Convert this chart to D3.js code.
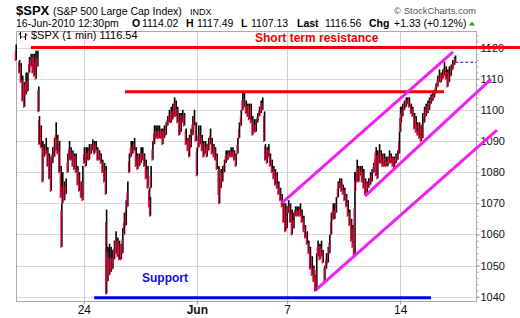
<html>
<head>
<script src="https://d3js.org/d3.v7.min.js"></script>
<style>
body { margin: 0; background: #fff; }
text { font-family: "Liberation Sans", Arial, sans-serif; }
</style>
</head>
<body>
<script>
var dayIdx = [0.00,0.15,0.22,0.29,0.37,0.44,0.52,0.59,0.66,0.74,0.81,0.88,0.96,1.00,1.03,1.11,1.18,1.25,1.33,1.40,1.47,1.55,1.62,1.70,1.77,1.84,1.92,1.99,2.02,2.06,2.14,2.21,2.29,2.36,2.43,2.51,2.58,2.65,2.73,2.80,2.88,2.95,3.02,3.10,3.17,3.24,3.32,3.39,3.47,3.54,3.61,3.69,3.76,3.83,3.91,3.98,4.00,4.06,4.13,4.20,4.28,4.35,4.42,4.50,4.57,4.65,4.72,4.79,4.87,4.94,5.01,5.09,5.16,5.24,
  5.31,5.38,5.46,5.53,5.60,5.68,5.75,5.83,5.90,5.94,5.97,6.05,6.12,6.19,6.27,6.34,6.42,6.49,6.56,6.64,6.71,6.78,6.86,6.93,7.01,7.08,7.15,7.23,7.30,7.37,7.45,7.52,7.60,7.67,7.74,7.82,7.89,7.96,8.01,8.08,8.16,8.23,8.30,8.38,8.45,8.52,8.60,8.67,8.75,8.82,8.89,8.97,9.00,9.07,9.14,9.22,9.29,9.37,9.44,9.51,9.59,9.66,9.73,9.81,9.88,9.96,10.03,10.10,10.18,10.25,10.32,10.40,10.47,10.55,
  10.62,10.69,10.77,10.84,10.91,10.99,11.03,11.11,11.18,11.25,11.33,11.40,11.47,11.55,11.62,11.70,11.77,11.84,11.92,11.99,12.06,12.14,12.21,12.29,12.36,12.43,12.51,12.58,12.65,12.73,12.80,12.88,12.95,13.02,13.10,13.17,13.24,13.30,13.36,13.44,13.51,13.58,13.66,13.73,13.81,13.88,13.95,14.03,14.10,14.17,14.25,14.32,14.40,14.47,14.54,14.62,14.69,14.76,14.84,14.90,14.96,14.99,15.01,15.09,15.16,15.24,15.31,15.38,15.46,15.53,15.60,15.68,15.75,15.83,15.90,
  15.93,16.00,16.08,16.15,16.22,16.30,16.37,16.45,16.52,16.59,16.67,16.74,16.81,16.89,16.96,17.01,17.04,17.11,17.18,17.26,17.33,17.40,17.48,17.55,17.63,17.70,17.77,17.85,17.92,17.99,18.07,18.14,18.22,18.29,18.36,18.44,18.51,18.58,18.66,18.73,18.81,18.88,18.95,19.03,19.10,19.17,19.25,19.32,19.40,19.44];

var hiVals = [1121,1116,1115,1111,1109,1112,1112,1117,1118,1118,1118,1119,1119,1107.5,1098,1095,1090,1089,1091,1088,1086,1085,1088,1091,1096,1092,1090,1082,1070,1080,1077,1078,1086,1090,1088,1087,1086,1086,1082,1080,1077,1082,1088,1088,1088,1089,1089,1090.5,1090,1090,1088,1087,1086,1084,1083,1082,1068,1056,1057,1056,1055,1058,1061,1059,1058,1057,1062,1067,1071,1077,1086,1090,1090,1091,
  1088,1086,1086,1088,1088,1086,1084,1082,1075,1072,1082,1090,1095,1095,1095,1095,1094,1094,1095,1096,1098,1100,1101,1102,1104,1103,1101,1099,1099,1100,1099,1094,1091,1092,1094,1098,1100,1096,1088,1095,1095,1092,1090,1090,1089,1091,1094,1091,1089,1088,1086,1082,1078,1081,1082,1084,1087,1087,1087,1088,1088,1087,1086,1091,1096,1100,1105.5,1105.5,1103,1102,1102,1102,1098,1097,
  1097,1099,1101,1103,1104,1099.5,1089,1088,1089,1086,1084,1082,1081,1080,1077,1075,1073,1071,1070,1069,1071,1070,1068,1067,1069,1069,1069,1070,1068,1066,1063,1061,1058,1056,1053,1050,1047,1054,1058,1057,1058,1055,1050,1054,1056,1060,1067,1070,1070,1072,1077,1078,1078,1076,1075,1073,1071,1068,1065,1063,1058,1080,1080,1084,1082,1082,1082,1081,1078,1077,1078,1080,1081,1083,1086,
  1088,1087,1089,1087,1086,1086,1085,1085,1087,1086,1085,1085,1086,1087,1093,1101,1101,1102,1103,1104,1104,1104,1102,1101,1099,1098,1096,1096,1095,1099,1101,1102,1103,1104,1105,1106,1106.5,1108.5,1111,1113,1112,1113,1115.5,1114,1113,1114,1114.5,1116,1117,1117.5];

var loVals = [1116,1112,1109,1103,1101,1105,1106,1112,1114,1112,1111,1110,1114,1099.5,1089,1088,1077,1085,1086,1082,1078,1074,1083,1085,1087,1086,1080,1072,1056,1070,1071,1073,1080,1084,1084,1082,1081,1080,1076,1074,1072,1071,1083,1082,1084,1084,1086,1087,1086,1087,1084,1084,1083,1080,1077,1073,1041,1045,1047,1048,1049,1052,1054,1053,1052,1052,1054,1060,1063,1069,1080,1085,1086,1087,
  1082,1081,1082,1083,1084,1082,1078,1075,1069,1066,1075,1084,1089,1091,1091,1091,1091,1089,1091,1092,1095,1096,1096,1097,1098,1098,1096,1092,1093,1096,1095,1089,1087,1085,1088,1092,1095,1090,1079,1088,1089,1087,1085,1086,1085,1087,1089,1086,1085,1084,1081,1073,1070,1075,1077,1080,1083,1084,1085,1085,1085,1084,1082,1086,1091,1095,1100,1101,1099,1098,1097,1096,1092,1093,
  1093,1096,1098,1099,1100,1090,1084,1083,1085,1082,1080,1078,1076,1075,1073,1071,1069,1064,1061,1062,1067,1064,1060,1062,1066,1066,1066,1066,1064,1061,1059,1057,1054,1049,1047,1045,1042,1042,1053,1052,1053,1051,1045,1049,1051,1054,1060,1065,1065,1067,1072,1075,1074,1073,1071,1069,1066,1063,1058,1056,1053,1054,1074,1077,1077,1079,1077,1075,1073,1073,1075,1076,1077,1080,1082,
  1079,1078,1083,1083,1082,1082,1082,1082,1083,1083,1082,1081,1083,1084,1086,1093,1096,1098,1100,1101,1102,1101,1099,1098,1094,1093,1092,1091,1090,1091,1096,1098,1099,1100,1102,1103,1104,1105.5,1107.5,1109,1109,1110,1111,1110,1107.5,1109,1111,1113,1114.5,1115.6];

var yTicks = [1040,1050,1060,1070,1080,1090,1100,1110,1120];
var yMinorTicks = d3.range(1040, 1125, 2);
var xTickDays = [3, 8, 12, 17];
var xTickLabels = ["24", "Jun", "7", "14"];

// annotations, in [day, price] terms
var resistanceLines = [[0.66, 22.3, 1120], [4.82, 18.94, 1105.8]];
var supportLine = [3.46, 18.36, 1039.7];
var channelLines = [[11.77, 1070.1, 19.34, 1118.6], [15.44, 1072.3, 21.02, 1109.9], [13.32, 1042.5, 21.28, 1093.5]];
var lastMarker = [19.44, 20.354, 1115.3];

var quoteLabels = ["O", "H", "L", "Last", "Chg"];
var quoteValues = ["1114.02", "1117.49", "1107.13", "1116.56", "+1.33 (+0.12%)"];

var width = 520, height = 318;
var plot = {left: 16, right: 476, top: 31, bottom: 301};

var xScale = d3.scaleLinear()
    .domain([0, 20.354])
    .range([plot.left, plot.right]);
var yScale = d3.scaleLinear()
    .domain([1040, 1120])
    .range([296.7, 47.6]);

var svg = d3.select("body").append("svg")
    .attr("width", width)
    .attr("height", height);

// header
var head = svg.append("g");
head.append("text").attr("x", 16).attr("y", 15)
    .attr("font-size", 13).attr("font-weight", "bold").text("$SPX");
head.append("text").attr("x", 53).attr("y", 14.5)
    .attr("font-size", 10.5).text("(S&P 500 Large Cap Index)");
head.append("text").attr("x", 190).attr("y", 14.5)
    .attr("font-size", 9).text("INDX");
head.append("text").attr("x", 476).attr("y", 14)
    .attr("font-size", 9.5).attr("fill", "#555").attr("text-anchor", "end")
    .text("\u00a9 StockCharts.com");

var line2 = head.append("text").attr("y", 27).attr("font-size", 10.5);
line2.append("tspan").attr("x", 16).text("16-Jun-2010 12:30pm");
var labelX = [132, 186, 241, 297, 369];
var valueX = [142, 197, 251, 325, 394];
quoteLabels.forEach(function(l, i) {
    line2.append("tspan").attr("x", labelX[i]).attr("font-weight", "bold").text(l);
    line2.append("tspan").attr("x", valueX[i]).text(quoteValues[i]);
});
head.append("path").attr("d", "M469,25.5L475,25.5L472,21.5Z").attr("fill", "#2a9a2a");

// grid
var grid = svg.append("g");
grid.selectAll(".hg").data(yTicks).enter().append("line")
    .attr("x1", plot.left).attr("x2", plot.right)
    .attr("y1", function(d) { return Math.round(yScale(d)) + 0.5; })
    .attr("y2", function(d) { return Math.round(yScale(d)) + 0.5; })
    .attr("stroke", "#dadada");
grid.selectAll(".vg").data(xTickDays).enter().append("line")
    .attr("y1", plot.top).attr("y2", plot.bottom)
    .attr("x1", function(d) { return Math.round(xScale(d)) + 0.5; })
    .attr("x2", function(d) { return Math.round(xScale(d)) + 0.5; })
    .attr("stroke", "#d0d0d0");

svg.append("rect")
    .attr("x", plot.left + 0.5).attr("y", plot.top + 0.5)
    .attr("width", plot.right - plot.left).attr("height", plot.bottom - plot.top)
    .attr("fill", "none").attr("stroke", "#aaa");

// axes
var yAxis = d3.axisRight(yScale).tickValues(yTicks).tickSize(3).tickPadding(1)
    .tickFormat(d3.format("d"));
var ya = svg.append("g").attr("transform", "translate(" + (plot.right + 0.5) + ",0)").call(yAxis);
ya.select(".domain").remove();
ya.selectAll("text").attr("font-size", 11).attr("fill", "#111").attr("font-family", "Liberation Sans, Arial");
ya.selectAll("line").attr("stroke", "#999");

var yMinor = d3.axisRight(yScale).tickValues(yMinorTicks).tickSize(2).tickFormat("");
var ym = svg.append("g").attr("transform", "translate(" + (plot.right + 0.5) + ",0)").call(yMinor);
ym.select(".domain").remove();
ym.selectAll("line").attr("stroke", "#aaa");

var xAxis = d3.axisBottom(xScale).tickValues(xTickDays).tickSize(3).tickPadding(1)
    .tickFormat(function(d, i) { return xTickLabels[i]; });
var xa = svg.append("g").attr("transform", "translate(0," + (plot.bottom + 0.5) + ")").call(xAxis);
xa.select(".domain").remove();
xa.selectAll("line").attr("stroke", "#999");
xa.selectAll("text").attr("font-size", 12).attr("fill", "#111").attr("font-family", "Liberation Sans, Arial")
    .attr("font-weight", function(d, i) { return xTickLabels[i] == "Jun" ? "bold" : "normal"; });

// legend inside plot
var icon = svg.append("g").attr("stroke", "#000").attr("stroke-width", 1);
icon.append("path").attr("d", "M20.5,32V39M18.5,34H20.5M20.5,37H22.5M25.5,33V40M23.5,37H25.5M25.5,35H27.5");
svg.append("text").attr("x", 31).attr("y", 38.5).attr("font-size", 11)
    .attr("font-family", "DejaVu Sans").text("$SPX (1 min) 1116.54");

// price bars: black full range, red overlay on the lower part (more when falling)
var bars = d3.range(dayIdx.length).map(function(i) {
    var mid = (hiVals[i] + loVals[i]) / 2;
    var prev = i > 0 ? (hiVals[i - 1] + loVals[i - 1]) / 2 : mid;
    return {day: dayIdx[i], hi: hiVals[i], lo: loVals[i], up: mid >= prev};
});
var barG = svg.append("g");
barG.selectAll(".blk").data(bars).enter().append("rect")
    .attr("x", function(d) { return xScale(d.day) - 0.6; })
    .attr("width", 1.6)
    .attr("y", function(d) { return yScale(d.hi); })
    .attr("height", function(d) { return Math.max(1, yScale(d.lo) - yScale(d.hi)); })
    .attr("fill", "#000");
barG.selectAll(".red").data(bars).enter().append("rect")
    .attr("x", function(d) { return xScale(d.day) - 1.3; })
    .attr("width", 1.3)
    .attr("y", function(d) {
        var f = d.up ? 0.45 : 0.15;
        return yScale(d.hi) + f * (yScale(d.lo) - yScale(d.hi));
    })
    .attr("height", function(d) {
        var f = d.up ? 0.45 : 0.15;
        return Math.max(1, (1 - f) * (yScale(d.lo) - yScale(d.hi)) + 1);
    })
    .attr("fill", "#d8103c");

// resistance + support
svg.append("g").selectAll("line").data(resistanceLines).enter().append("line")
    .attr("x1", function(d) { return xScale(d[0]); })
    .attr("x2", function(d) { return xScale(d[1]); })
    .attr("y1", function(d) { return yScale(d[2]); })
    .attr("y2", function(d) { return yScale(d[2]); })
    .attr("stroke", "#f00000").attr("stroke-width", 3);

svg.append("line")
    .attr("x1", xScale(supportLine[0])).attr("x2", xScale(supportLine[1]))
    .attr("y1", yScale(supportLine[2])).attr("y2", yScale(supportLine[2]))
    .attr("stroke", "#0000ee").attr("stroke-width", 3);

svg.append("line")
    .attr("x1", xScale(lastMarker[0])).attr("x2", xScale(lastMarker[1]))
    .attr("y1", yScale(lastMarker[2])).attr("y2", yScale(lastMarker[2]))
    .attr("stroke", "#0000ff").attr("stroke-width", 1).attr("stroke-dasharray", "3,2");

// trend channel
svg.append("g").selectAll("line").data(channelLines).enter().append("line")
    .attr("x1", function(d) { return xScale(d[0]); })
    .attr("y1", function(d) { return yScale(d[1]); })
    .attr("x2", function(d) { return xScale(d[2]); })
    .attr("y2", function(d) { return yScale(d[3]); })
    .attr("stroke", "#f020f0").attr("stroke-width", 3);

// notes
svg.append("text").attr("x", 255).attr("y", 41.5)
    .attr("font-size", 12).attr("font-weight", "bold").attr("fill", "#f00000")
    .text("Short term resistance");
svg.append("text").attr("x", 142).attr("y", 282)
    .attr("font-size", 12).attr("font-weight", "bold").attr("fill", "#1010e0")
    .text("Support");
</script>
</body>
</html>
